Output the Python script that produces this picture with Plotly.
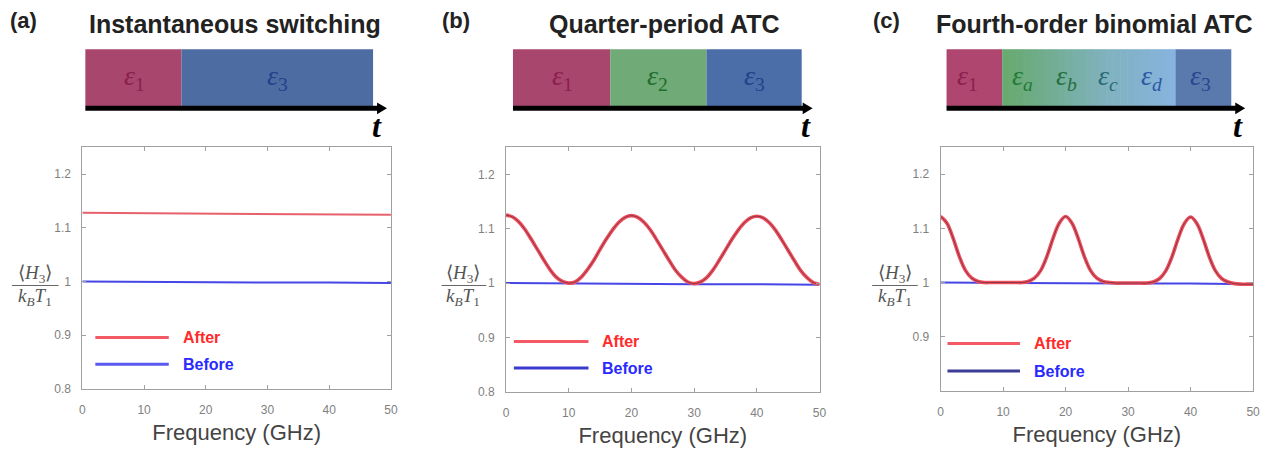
import plotly.graph_objects as go

W, H = 1275, 450

# ---------------- data ----------------
freq_coarse = [0, 10, 20, 30, 40, 50]
freq_fine = list(range(0, 51))

after_a = [1.128, 1.127, 1.126, 1.126, 1.125, 1.124]
before_a = [1.000, 0.999, 0.999, 0.998, 0.998, 0.997]

after_b = [1.125, 1.122, 1.113, 1.099, 1.081, 1.062, 1.043, 1.025, 1.011, 1.003, 1.000,
           1.002, 1.011, 1.025, 1.042, 1.062, 1.081, 1.098, 1.112, 1.121, 1.124,
           1.121, 1.112, 1.098, 1.080, 1.061, 1.042, 1.024, 1.011, 1.002, 0.999,
           1.002, 1.010, 1.024, 1.042, 1.061, 1.080, 1.097, 1.111, 1.120, 1.123,
           1.120, 1.111, 1.097, 1.079, 1.060, 1.041, 1.023, 1.010, 1.001, 0.998]
before_b = [1.000, 0.999, 0.999, 0.998, 0.998, 0.997]

after_c = [1.122, 1.110, 1.082, 1.048, 1.022, 1.008, 1.002, 1.000, 1.000, 1.000, 1.000,
           1.000, 1.000, 1.000, 1.002, 1.008, 1.022, 1.048, 1.082, 1.110, 1.122,
           1.110, 1.082, 1.048, 1.022, 1.008, 1.002, 1.000, 0.999, 0.999, 0.999,
           0.999, 0.999, 0.999, 1.001, 1.007, 1.021, 1.047, 1.081, 1.109, 1.121,
           1.109, 1.081, 1.047, 1.021, 1.007, 1.001, 0.998, 0.997, 0.997, 0.997]
before_c = [1.000, 0.999, 0.999, 0.998, 0.998, 0.997]

x_ticks = [0, 10, 20, 30, 40, 50]
y_ticks = [0.8, 0.9, 1.0, 1.1, 1.2]
y_ticklabels = ["0.8", "0.9", "1", "1.1", "1.2"]
y_ticklabels_c = ["", "0.9", "1", "1.1", "1.2"]

panel_letters = ["(a)", "(b)", "(c)"]
panel_titles = ["Instantaneous switching", "Quarter-period ATC", "Fourth-order binomial ATC"]
legend_names = ["After", "Before"]

# ---------------- helpers ----------------
def px(x):
    return x / W

def py(y):
    return 1 - y / H

RED = "#f0505e"
DARK = "#7a3040"
BLUE = "#4646e6"
AXC = "#a0a0a0"

# axis domains in window pixels: (left, right, top, bottom)
doms = [(80, 391, 149.5, 395), (507, 823, 149.5, 398), (945, 1260, 149.5, 397)]

fig = go.Figure()

# panel a
fig.add_trace(go.Scatter(x=freq_coarse, y=after_a, mode="lines", line=dict(color="#e8606c", width=2),
                         xaxis="x", yaxis="y", showlegend=False, name="After"))
fig.add_trace(go.Scatter(x=freq_coarse, y=before_a, mode="lines", line=dict(color=BLUE, width=2),
                         xaxis="x", yaxis="y", showlegend=False, name="Before"))
# panel b
fig.add_trace(go.Scatter(x=freq_coarse, y=before_b, mode="lines", line=dict(color=BLUE, width=2),
                         xaxis="x2", yaxis="y2", showlegend=False, name="Before"))
fig.add_trace(go.Scatter(x=freq_fine, y=after_b, mode="lines", line=dict(color=RED, width=3.6, shape="spline"),
                         xaxis="x2", yaxis="y2", showlegend=False, name="After"))
fig.add_trace(go.Scatter(x=freq_fine, y=after_b, mode="lines", line=dict(color=DARK, width=0.9, shape="spline"),
                         xaxis="x2", yaxis="y2", showlegend=False, hoverinfo="skip"))
# panel c
fig.add_trace(go.Scatter(x=freq_coarse, y=before_c, mode="lines", line=dict(color=BLUE, width=2),
                         xaxis="x3", yaxis="y3", showlegend=False, name="Before"))
fig.add_trace(go.Scatter(x=freq_fine, y=after_c, mode="lines", line=dict(color=RED, width=3.6, shape="spline"),
                         xaxis="x3", yaxis="y3", showlegend=False, name="After"))
fig.add_trace(go.Scatter(x=freq_fine, y=after_c, mode="lines", line=dict(color=DARK, width=0.9, shape="spline"),
                         xaxis="x3", yaxis="y3", showlegend=False, hoverinfo="skip"))

layout = dict(width=W, height=H, margin=dict(l=0, r=0, t=0, b=0),
              paper_bgcolor="white", plot_bgcolor="white",
              font=dict(family="Liberation Sans, Arial, sans-serif"))

for i, (l, r, t, b) in enumerate(doms):
    sx = "" if i == 0 else str(i + 1)
    layout["xaxis" + sx] = dict(domain=[px(l), px(r)], anchor="y" + sx, range=[0, 50],
                                tickvals=x_ticks, ticks="inside", ticklen=4, tickcolor=AXC,
                                showline=True, linecolor=AXC, linewidth=1, mirror="ticks",
                                showgrid=False, zeroline=False, ticklabelstandoff=10,
                                tickfont=dict(size=12, color="#808080"),
                                title=dict(text="Frequency (GHz)", font=dict(size=22, color="#444444"),
                                           standoff=8))
    layout["yaxis" + sx] = dict(domain=[py(b), py(t)], anchor="x" + sx, range=[0.8, 1.25],
                                tickvals=y_ticks, ticktext=(y_ticklabels_c if i == 2 else y_ticklabels),
                                ticks="inside", ticklen=4, tickcolor=AXC,
                                showline=True, linecolor=AXC, linewidth=1, mirror="ticks",
                                showgrid=False, zeroline=False, ticklabelstandoff=8,
                                tickfont=dict(size=12, color="#808080"))

shapes = []
annotations = []

# titles
letter_x = [5, 440, 875]
title_cx = [234, 667, 1100]
for i in range(3):
    annotations.append(dict(x=px(letter_x[i]), y=py(21), xref="paper", yref="paper", xanchor="left",
                            yanchor="middle", text="<b>%s</b>" % panel_letters[i], showarrow=False,
                            font=dict(size=22, color="#222222")))
    annotations.append(dict(x=px(title_cx[i]), y=py(24), xref="paper", yref="paper", xanchor="center",
                            yanchor="middle", text="<b>%s</b>" % panel_titles[i], showarrow=False,
                            font=dict(size=25, color="#222222")))

# timeline bars (decoration)
BT, BB = 50, 108
def rect(x0, x1, color):
    shapes.append(dict(type="rect", xref="paper", yref="paper", x0=px(x0), x1=px(x1),
                       y0=py(BB), y1=py(BT), fillcolor=color, line=dict(width=0), layer="below"))

def eps(xc, sub, color):
    if sub.isalpha():
        txt = "<i>ε</i><sub><i>%s</i></sub>" % sub
    else:
        txt = "<i>ε</i><sub>%s</sub>" % sub
    annotations.append(dict(x=px(xc), y=py(79), xref="paper", yref="paper", xanchor="center",
                            yanchor="middle", text=txt, showarrow=False,
                            font=dict(size=28, color=color, family="Liberation Serif, serif")))

# panel a
rect(83, 180, "#a8466e")
rect(180, 373, "#4d6ca2")
eps(133, "1", "#8c1e4c")
eps(277, "3", "#23408a")
# panel b
rect(514, 612, "#a8466e")
rect(612, 709, "#70aa76")
rect(709, 805, "#4b6ea8")
eps(564, "1", "#8c1e4c")
eps(660, "2", "#1f6e2c")
eps(757, "3", "#23408a")
# panel c with gradient section
rect(951, 1007, "#ae4670")
g0, g1 = 1007, 1182
n = 25
c_start = (104, 170, 112)
c_mid = (128, 178, 190)
c_end = (134, 180, 222)
for k in range(n):
    f = k / (n - 1)
    if f < 0.6:
        u = f / 0.6
        c = [int(c_start[j] + (c_mid[j] - c_start[j]) * u) for j in range(3)]
    else:
        u = (f - 0.6) / 0.4
        c = [int(c_mid[j] + (c_end[j] - c_mid[j]) * u) for j in range(3)]
    xa = g0 + (g1 - g0) * k / n
    xb = g0 + (g1 - g0) * (k + 1) / n + 0.6
    rect(xa, xb, "rgb(%d,%d,%d)" % tuple(c))
rect(1182, 1238, "#5a7aae")
eps(972, "1", "#8c1e4c")
eps(1028, "a", "#237a36")
eps(1072, "b", "#25703e")
eps(1114, "c", "#2a6a78")
eps(1158, "d", "#2a58a4")
eps(1207, "3", "#28468c")

# time arrows
arrows = [(83, 387, 377), (514, 816, 809), (951, 1252, 1245)]
for (x0, tip, tx) in arrows:
    shapes.append(dict(type="line", xref="paper", yref="paper", x0=px(x0), x1=px(tip - 8),
                       y0=py(110), y1=py(110), line=dict(color="black", width=5)))
    shapes.append(dict(type="path", xref="paper", yref="paper",
                       path="M %f %f L %f %f L %f %f Z" % (px(tip - 10), py(104), px(tip), py(110),
                                                          px(tip - 10), py(116)),
                       fillcolor="black", line=dict(width=0)))
    annotations.append(dict(x=px(tx), y=py(128), xref="paper", yref="paper", xanchor="center",
                            yanchor="middle", text="<b><i>t</i></b>", showarrow=False,
                            font=dict(size=32, color="black", family="Liberation Serif, serif")))

# y-axis fraction labels
frac = [(32, 9, 56), (464, 442, 487), (899, 876, 922)]
for (cx, l, r) in frac:
    annotations.append(dict(x=px(cx), y=py(278), xref="paper", yref="paper", xanchor="center",
                            yanchor="middle", text="⟨<i>H</i><sub>3</sub>⟩", showarrow=False,
                            font=dict(size=19, color="#555555", family="Liberation Serif, serif")))
    shapes.append(dict(type="line", xref="paper", yref="paper", x0=px(l), x1=px(r), y0=py(290),
                       y1=py(290), line=dict(color="#666666", width=1)))
    annotations.append(dict(x=px(cx), y=py(302), xref="paper", yref="paper", xanchor="center",
                            yanchor="middle", text="<i>k</i><sub><i>B</i></sub><i>T</i><sub>1</sub>",
                            showarrow=False,
                            font=dict(size=19, color="#555555", family="Liberation Serif, serif")))

# in-plot legends (axis-domain coordinates)
leg = [  # (axis suffix, line x0, line x1, y after, y before, text x, before line color)
    ("", 0.042, 0.28, 0.212, 0.102, 0.32, "#5a5af0"),
    ("2", 0.025, 0.263, 0.206, 0.097, 0.30, "#3a3ad0"),
    ("3", 0.022, 0.254, 0.194, 0.081, 0.292, "#3c3c96"),
]
for (sx, lx0, lx1, ya, yb, tx, bc) in leg:
    xr = "x%s domain" % sx
    yr = "y%s domain" % sx
    shapes.append(dict(type="line", xref=xr, yref=yr, x0=lx0, x1=lx1, y0=ya, y1=ya,
                       line=dict(color="#f45a66", width=3)))
    shapes.append(dict(type="line", xref=xr, yref=yr, x0=lx0, x1=lx1, y0=yb, y1=yb,
                       line=dict(color=bc, width=3)))
    annotations.append(dict(x=tx, y=ya, xref=xr, yref=yr, xanchor="left", yanchor="middle",
                            text="<b>%s</b>" % legend_names[0], showarrow=False,
                            font=dict(size=16, color="#ff2a2a")))
    annotations.append(dict(x=tx, y=yb, xref=xr, yref=yr, xanchor="left", yanchor="middle",
                            text="<b>%s</b>" % legend_names[1], showarrow=False,
                            font=dict(size=16, color="#2a2aff")))

layout["shapes"] = shapes
layout["annotations"] = annotations
fig.update_layout(**layout)
# remove the default page margin so the figure sits at the window origin
fig.write_html("out.html", config={"displayModeBar": False},
               post_script="document.body.style.margin='0';document.body.style.overflow='hidden';")
